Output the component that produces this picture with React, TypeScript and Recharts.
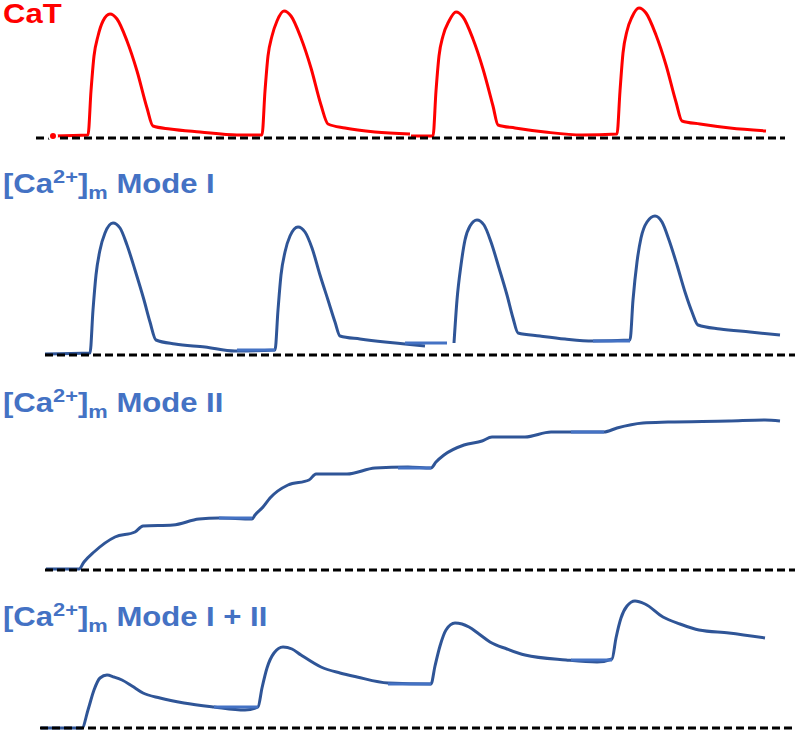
import { LineChart, Line, XAxis, YAxis, ReferenceLine } from 'recharts'

type Pt = [number, number | null]

// time (a.u.) vs amplitude above resting level (a.u.)
const catTrace: Pt[] = [
  [53, 2], [88, 3], [91, 47], [94, 82], [98, 102], [103, 117], [110, 124], [117, 119], [127, 97], [137, 67],
  [147, 30], [153, 12], [170, 9], [200, 6], [237, 3], [262, 3], [265, 47], [268, 82], [272, 102], [277, 117],
  [284, 127], [291, 122], [301, 100], [311, 70], [321, 33], [328, 14], [345, 10], [375, 6], [410, 4],
  [410.5, null], [411, 2], [433, 2], [436, 47], [439, 82], [443, 102], [449, 117], [456, 126], [463, 121],
  [473, 99], [483, 69], [493, 32], [498, 13], [515, 10], [545, 6], [582, 3], [617, 4], [620, 47], [623, 85],
  [627, 107], [632, 121], [639, 130], [646, 125], [656, 103], [666, 73], [676, 36], [682, 17], [700, 14],
  [730, 10], [766, 7],
]

const modeITrace: Pt[] = [
  [45, 1], [90, 2], [93, 45], [96, 80], [100, 105], [105, 122], [113, 132], [120, 127], [127, 110], [135, 85],
  [144, 55], [150, 33], [156, 15], [175, 11], [205, 8], [235, 4], [275, 5], [278, 45], [281, 80], [285, 103],
  [290, 119], [298, 128], [305, 123], [312, 107], [320, 80], [328, 55], [335, 33], [340, 19], [360, 16],
  [385, 13], [405, 11], [425, 9], [440, null], [454, 12], [457, 55], [461, 90], [465, 115], [470, 129], [477, 135],
  [484, 130], [491, 113], [499, 87], [507, 60], [513, 37], [518, 22], [540, 19], [565, 16], [593, 14],
  [630, 15], [633, 55], [637, 93], [641, 117], [647, 133], [655, 139], [662, 133], [669, 115], [677, 90],
  [685, 63], [692, 43], [698, 30], [720, 26], [750, 23], [780, 20],
]
const modeIOverlap: Pt[] = [[237, 5], [275, 5], [276, null], [405, 12], [447, 12], [448, null], [593, 14], [630, 14]]

const modeIITrace: Pt[] = [
  [46, 1], [79, 1], [84, 8], [94, 18], [115, 33], [135, 38], [143, 44], [173, 45], [199, 51], [219, 52],
  [252, 51], [255, 55], [263, 63], [270, 72], [288, 85], [309, 90], [316, 96], [347, 96], [375, 102],
  [408, 103], [431, 102], [436, 108], [444, 115], [464, 125], [482, 129], [492, 133], [525, 133], [551, 138],
  [604, 138], [617, 142], [643, 147], [668, 148], [729, 149], [765, 150], [780, 149],
]
const modeIIOverlap: Pt[] = [[219, 52], [252, 52], [253, null], [398, 102], [431, 102], [432, null], [571, 138], [604, 138]]

const modeI2Trace: Pt[] = [
  [41, 0], [82, 0], [88, 18], [94, 38], [100, 50], [107, 53], [114, 51], [122, 48], [132, 42], [143, 35],
  [160, 30], [184, 25], [214, 21], [245, 18], [258, 21], [262, 40], [267, 60], [274, 75], [283, 81],
  [292, 79], [301, 73], [321, 61], [340, 55], [357, 51], [388, 45], [431, 44], [435, 62], [440, 82],
  [446, 98], [455, 105], [462, 104], [469, 101], [479, 94], [490, 86], [507, 79], [525, 73], [566, 68],
  [597, 66], [612, 69], [616, 90], [621, 110], [627, 122], [635, 127], [645, 124], [663, 111], [680, 104],
  [699, 98], [729, 95], [765, 90],
]
const modeI2Overlap: Pt[] = [[214, 21], [258, 21], [259, null], [388, 44], [431, 44], [432, null], [571, 68], [612, 68]]

const toRows = (pts: Pt[]) => pts.map(([t, v]) => ({ t, v }))

const FONT = '"Liberation Sans", Arial, sans-serif'
const RED = '#ff0000'
const DARK = '#2f5597'
const LIGHT = '#4472c4'

function Panel({
  top, height, domain, trace, overlap, color, span,
}: {
  top: number; height: number; domain: [number, number]; trace: Pt[]; overlap?: Pt[]
  color: string; span: [number, number]
}) {
  return (
    <div style={{ position: 'absolute', left: 0, top }}>
      <LineChart width={800} height={height} margin={{ top: 0, right: 0, bottom: 0, left: 0 }}>
        <XAxis dataKey="t" type="number" domain={[0, 800]} hide allowDataOverflow />
        <YAxis type="number" domain={domain} hide allowDataOverflow />
        <Line data={toRows(trace)} dataKey="v" type="monotone" stroke={color} strokeWidth={3}
          dot={false} isAnimationActive={false} connectNulls={false} />
        {overlap && (
          <Line data={toRows(overlap)} dataKey="v" type="linear" stroke={LIGHT} strokeWidth={3}
            dot={false} isAnimationActive={false} connectNulls={false} />
        )}
        <ReferenceLine segment={[{ x: span[0], y: 0 }, { x: span[1], y: 0 }]}
          stroke="#000" strokeWidth={3} strokeDasharray="8 4" ifOverflow="visible" />
      </LineChart>
    </div>
  )
}

function Title({ top, color, children }: { top: number; color: string; children: React.ReactNode }) {
  return (
    <div style={{
      position: 'absolute', left: 3, top, fontFamily: FONT, fontWeight: 'bold', fontSize: 27,
      lineHeight: '27px', color, whiteSpace: 'nowrap', transform: 'scaleX(1.15)', transformOrigin: 'left',
    }}>
      {children}
    </div>
  )
}

function CaM({ label }: { label: string }) {
  return (
    <>
      [Ca<span style={{ fontSize: 19, position: 'relative', top: -10 }}>2+</span>]
      <span style={{ fontSize: 19, position: 'relative', top: 6 }}>m</span> {label}
    </>
  )
}

export default function App() {
  return (
    <div style={{ position: 'absolute', left: 0, top: 0, width: 800, height: 732, background: '#fff', overflow: 'hidden' }}>
      <Title top={1} color={RED}>CaT</Title>
      <Panel top={0} height={148} domain={[-10, 138]} trace={catTrace} color={RED} span={[36, 785]} />

      <Title top={171} color={LIGHT}><CaM label="Mode I" /></Title>
      <Panel top={200} height={165} domain={[-10, 155]} trace={modeITrace} overlap={modeIOverlap} color={DARK} span={[45, 795]} />

      <Title top={390} color={LIGHT}><CaM label="Mode II" /></Title>
      <Panel top={400} height={180} domain={[-10, 170]} trace={modeIITrace} overlap={modeIIOverlap} color={DARK} span={[45, 795]} />

      <Title top={604} color={LIGHT}><CaM label="Mode I + II" /></Title>
      <Panel top={580} height={152} domain={[-4, 148]} trace={modeI2Trace} overlap={modeI2Overlap} color={DARK} span={[40, 795]} />
    </div>
  )
}
